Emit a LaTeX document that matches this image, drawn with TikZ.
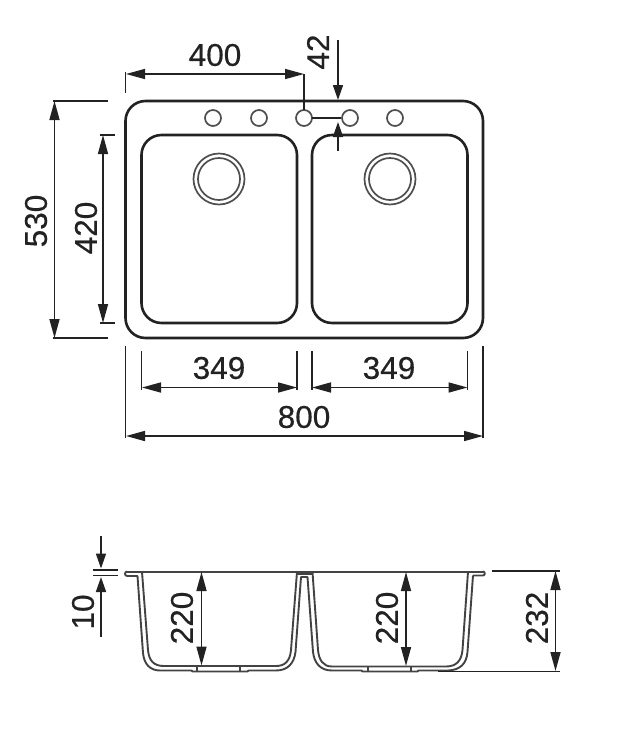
\documentclass[tikz,border=0pt]{standalone}
\usepackage{fontspec}
\setmainfont[FakeBold=0.4]{Liberation Sans}
\usetikzlibrary{arrows.meta}
\definecolor{ink}{HTML}{222222}
\tikzset{
  outline/.style={draw=ink,line width=2.6pt},
  hole/.style={draw=ink!80,line width=1.7pt},
  sect/.style={draw=ink!85,line width=1.9pt,line join=round},
  ext/.style={draw=ink,line width=1.6pt},
  dimboth/.style={draw=ink,line width=1.6pt,{Stealth[inset=0pt,length=19pt,width=10pt]}-{Stealth[inset=0pt,length=19pt,width=10pt]}},
  dimend/.style={draw=ink,line width=1.6pt,-{Stealth[inset=0pt,length=15pt,width=10pt]}},
  lab/.style={text=ink,font=\fontsize{31.5}{32}\selectfont,inner sep=0pt},
  vlab/.style={lab,rotate=90}
}
\begin{document}
\begin{tikzpicture}[x=1pt,y=-1pt]
\useasboundingbox (0,0) rectangle (643,737);
% plan view
\draw[outline,rounded corners=20pt] (125.5,101) rectangle (483,338);
\draw[outline,rounded corners=20pt] (141.5,135) rectangle (297,323);
\draw[outline,rounded corners=20pt] (312,135) rectangle (467.5,323);
\foreach \hx in {213,259,304,350,395}
  \draw[hole] (\hx,118) circle (8);
\foreach \dx in {219,390}{
  \draw[hole] (\dx,179) circle (25.5);
  \draw[hole] (\dx,179) circle (21);
}
% plan dimensions
\draw[ext] (125.5,72) -- (125.5,93);
\draw[ext] (304,74) -- (304,110);
\draw[dimboth] (126,74) -- (304,74);
\node[lab] (t400) at (215,55) {400};
\draw[dimend] (338,40) -- (338,100);
\draw[dimend] (338,151) -- (338,122);
\draw[ext] (312,118) -- (341,118);
\node[vlab] (t42) at (318,52) {42};
\draw[ext] (53,101) -- (108,101);
\draw[ext] (53,338) -- (108,338);
\draw[dimboth] (54.5,101) -- (54.5,338);
\node[vlab] (t530) at (36,221) {530};
\draw[ext] (100,135) -- (115,135);
\draw[ext] (100,323) -- (115,323);
\draw[dimboth] (103,135) -- (103,323);
\node[vlab] (t420) at (86,228) {420};
\draw[ext] (141.5,351) -- (141.5,390);
\draw[ext] (297,351) -- (297,390);
\draw[ext] (312,351) -- (312,390);
\draw[ext] (467.5,351) -- (467.5,390);
\draw[dimboth] (142,387.5) -- (297,387.5);
\draw[dimboth] (312,387.5) -- (467.5,387.5);
\node[lab] (t349a) at (219,368) {349};
\node[lab] (t349b) at (389,368) {349};
\draw[ext] (125.5,346) -- (125.5,438);
\draw[ext] (483,346) -- (483,438);
\draw[dimboth] (126,436) -- (483,436);
\node[lab] (t800) at (304,417) {800};
% section view: rim
\draw[sect,line width=2pt] (127,571.5) -- (483,571.5);
\draw[sect] (483,571.5) to[out=0,in=0,looseness=1.5] (483,575.5) -- (473,575.5);
\draw[sect] (127,576) to[out=180,in=180,looseness=1.5] (127,571.5);
\draw[sect,line width=3pt] (297,573) -- (312,573);
% outer skin
\draw[sect] (127,576) -- (137.5,576) -- (143,653)
  .. controls (144,664) and (150,670.5) .. (160,670.5) -- (192,670.5) -- (192,671.5) -- (248,671.5) -- (248,670.5) -- (276,670.5)
  .. controls (287,670.5) and (294,664) .. (295.5,652) -- (301,577) -- (307.5,577) -- (313,652)
  .. controls (314.5,664) and (321,670.5) .. (332,670.5) -- (362,670.5) -- (362,671.5) -- (418,671.5) -- (418,670.5) -- (448,670.5)
  .. controls (460,670) and (466.5,664) .. (467.5,652) -- (473,575.5);
% inner skin
\draw[sect] (142,572) -- (148,650) .. controls (149,661) and (154,666) .. (164,666) -- (276,666)
  .. controls (285,666) and (290,661) .. (291,650) -- (297,572);
\draw[sect] (312.5,572) -- (318,650) .. controls (319,660) and (323,666.5) .. (332,666.5) -- (446,666.5)
  .. controls (456,666.5) and (461.5,661) .. (462.5,650) -- (468,572);
% pad ticks
\foreach \tx in {197,240,368,411}
  \draw[sect] (\tx,666) -- (\tx,671);
% section dimensions
\draw[ext] (93,570) -- (118,570);
\draw[ext] (93,575.5) -- (118,575.5);
\draw[dimend] (101,536) -- (101,568.5);
\draw[dimend] (101,637) -- (101,577);
\node[vlab] (t10) at (83,612) {10};
\draw[dimboth] (201.5,572) -- (201.5,665.5);
\node[vlab] (t220a) at (182,618) {220};
\draw[dimboth] (406,572) -- (406,666);
\node[vlab] (t220b) at (387,618) {220};
\draw[ext] (492,571) -- (560,571);
\draw[ext] (438,671.5) -- (560,671.5);
\draw[dimboth] (555.5,571) -- (555.5,671);
\node[vlab] (t232) at (537,618) {232};
\end{tikzpicture}
\end{document}
